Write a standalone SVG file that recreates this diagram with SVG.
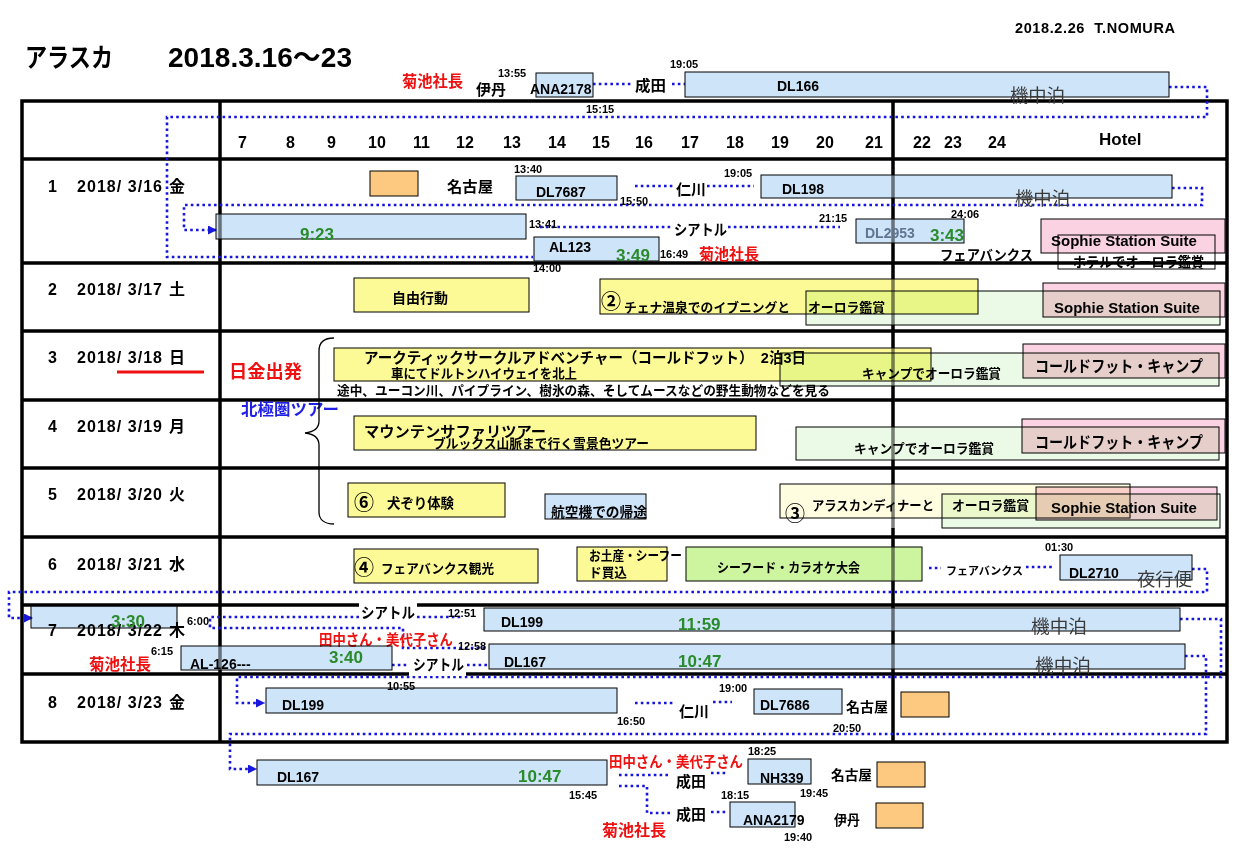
<svg xmlns="http://www.w3.org/2000/svg" width="1251" height="865" viewBox="0 0 1251 865">
<defs>
<style>
.t{font-family:"Liberation Sans","Noto Sans CJK JP",sans-serif;font-weight:700;fill:#000}
.s{font-size:11px}
.f{font-size:14px}
.h{font-size:16px}
.g{fill:#2b8a2b;font-size:17px}
.r{fill:#ee1111}
.m{font-weight:400;fill:#3a3a3a;font-size:18px}
.c{font-weight:700;font-size:20px}
.so{font-size:15px}
.bx{stroke:#000;stroke-width:1;mix-blend-mode:multiply}
.bl{fill:#cde4f9}
.ye{fill:#fcfa96}
.py{fill:#fefde0}
.gr{fill:#ebfae6}
.pk{fill:#fad2e1}
.kg{fill:#cdf5a0}
.or{fill:#fdc880;stroke:#000;stroke-width:1}
.wb{fill:#fff}
.dot{fill:none;stroke:#1616dd;stroke-width:2.6;stroke-dasharray:2.6 3.2}
.gk{stroke:#000;stroke-width:3.5;fill:none}
.gg{stroke:#808080;stroke-width:3.5;fill:none}
</style>
<marker id="ah" viewBox="0 0 10 10" refX="10" refY="5" markerWidth="9" markerHeight="9" markerUnits="userSpaceOnUse" orient="auto"><path d="M0,0L10,5L0,10z" fill="#1616dd"/></marker>
</defs>
<rect width="1251" height="865" fill="#fff"/>

<g id="grid">
<rect class="gk" x="22" y="101" width="1205" height="641"/>
<path class="gk" stroke-width="3" d="M22,159H1227M22,263H1227M22,331H1227M22,400H1227M22,468H1227M22,537H1227M22,605H1227M22,674H1227"/>
<path class="gk" d="M220,101V214M220,239V646M220,670V742"/>
<path class="gg" d="M220,214V239M220,646V670"/>
<path class="gk" d="M893,101V175M893,198V219M893,243V279M893,325V348M893,386V427M893,460V484M893,528V547M893,581V608M893,631V644M893,669V742"/>
<path class="gg" d="M893,175V198M893,219V243M893,279V325M893,348V386M893,427V460M893,484V528M893,547V581M893,608V631M893,644V669"/>
</g>

<g id="connectors">
<path class="dot" d="M593,84H632M672,84H685"/>
<path class="dot" d="M1169,87H1207V117H167V257H533"/>
<path class="dot" d="M1172,188H1202V205H184V230H217" marker-end="url(#ah)"/>
<path class="dot" d="M635,186H674M707,186H754"/>
<path class="dot" d="M540,227H672M728,227H840"/>
<path class="dot" d="M929,568H941M1026,567H1052"/>
<path class="dot" d="M1192,569H1207V592H9V618H33" marker-end="url(#ah)"/>
<path class="dot" d="M359,617H210V628H403V648H487"/>
<path class="dot" d="M417,617H462"/>
<path class="dot" d="M392,665H410M467,665H488"/>
<path class="dot" d="M1180,619H1221V677H237V703H265" marker-end="url(#ah)"/>
<path class="dot" d="M1185,656H1206V734H230V769H257" marker-end="url(#ah)"/>
<path class="dot" d="M635,703H673M713,702H732"/>
<path class="dot" d="M619,775H671M711,773H728"/>
<path class="dot" d="M619,786H647V813H671M711,812H728"/>
</g>

<g id="title">
<text class="t" x="25" y="67" font-size="26" textLength="88" lengthAdjust="spacingAndGlyphs">アラスカ</text>
<text class="t" x="168" y="67" font-size="27" textLength="184" lengthAdjust="spacingAndGlyphs">2018.3.16～23</text>
</g>
<g id="author"><text class="t" x="1015" y="33" font-size="14.5" textLength="160" lengthAdjust="spacing" xml:space="preserve">2018.2.26  T.NOMURA</text></g>

<g id="n-kikuchi-top"><text class="t r" x="402" y="87" font-size="16" textLength="61" lengthAdjust="spacingAndGlyphs">菊池社長</text></g>
<g id="n-itami-top"><text class="t s" x="498" y="77">13:55</text><text class="t" x="476" y="95" font-size="15" textLength="30" lengthAdjust="spacingAndGlyphs">伊丹</text></g>
<g id="n-ana2178"><rect class="bx bl" x="536" y="73" width="57" height="24"/><text class="t f" x="530" y="94">ANA2178</text></g>
<g id="n-narita-top"><text class="t" x="635" y="91" font-size="15" textLength="31" lengthAdjust="spacingAndGlyphs">成田</text></g>
<g id="n-dl166"><text class="t s" x="670" y="68">19:05</text><rect class="bx bl" x="685" y="72" width="484" height="25"/><text class="t f" x="777" y="91">DL166</text><text class="t m" x="1010" y="102" textLength="55" lengthAdjust="spacingAndGlyphs">機中泊</text></g>
<g id="n-1515"><text class="t s" x="586" y="113">15:15</text></g>

<g id="hours">
<text class="t h" x="238" y="148">7</text><text class="t h" x="286" y="148">8</text><text class="t h" x="327" y="148">9</text>
<text class="t h" x="368" y="148">10</text><text class="t h" x="413" y="148">11</text><text class="t h" x="456" y="148">12</text>
<text class="t h" x="503" y="148">13</text><text class="t h" x="548" y="148">14</text><text class="t h" x="592" y="148">15</text>
<text class="t h" x="635" y="148">16</text><text class="t h" x="681" y="148">17</text><text class="t h" x="726" y="148">18</text>
<text class="t h" x="771" y="148">19</text><text class="t h" x="816" y="148">20</text><text class="t h" x="865" y="148">21</text>
<text class="t h" x="913" y="148">22</text><text class="t h" x="944" y="148">23</text><text class="t h" x="988" y="148">24</text>
<text class="t" x="1099" y="145" font-size="17">Hotel</text>
</g>

<g id="day1"><text class="t h" x="48" y="192">1</text><text class="t h" x="77" y="192" textLength="85" lengthAdjust="spacing">2018/ 3/16</text><text class="t h" x="169" y="192">金</text></g>
<g id="day2"><text class="t h" x="48" y="295">2</text><text class="t h" x="77" y="295" textLength="85" lengthAdjust="spacing">2018/ 3/17</text><text class="t h" x="169" y="295">土</text></g>
<g id="day3"><text class="t h" x="48" y="363">3</text><text class="t h" x="77" y="363" textLength="85" lengthAdjust="spacing">2018/ 3/18</text><text class="t h" x="169" y="363">日</text></g>
<g id="day4"><text class="t h" x="48" y="432">4</text><text class="t h" x="77" y="432" textLength="85" lengthAdjust="spacing">2018/ 3/19</text><text class="t h" x="169" y="432">月</text></g>
<g id="day5"><text class="t h" x="48" y="500">5</text><text class="t h" x="77" y="500" textLength="85" lengthAdjust="spacing">2018/ 3/20</text><text class="t h" x="169" y="500">火</text></g>
<g id="day6"><text class="t h" x="48" y="570">6</text><text class="t h" x="77" y="570" textLength="85" lengthAdjust="spacing">2018/ 3/21</text><text class="t h" x="169" y="570">水</text></g>
<g id="day7"><text class="t h" x="48" y="636">7</text><text class="t h" x="77" y="636" textLength="85" lengthAdjust="spacing">2018/ 3/22</text><text class="t h" x="169" y="636">木</text></g>
<g id="day8"><text class="t h" x="48" y="708">8</text><text class="t h" x="77" y="708" textLength="85" lengthAdjust="spacing">2018/ 3/23</text><text class="t h" x="169" y="708">金</text></g>

<g id="n-nagoya1"><rect class="or" x="370" y="171" width="48" height="25"/><text class="t" x="447" y="192" font-size="15" textLength="46" lengthAdjust="spacingAndGlyphs">名古屋</text></g>
<g id="n-dl7687"><text class="t s" x="514" y="173">13:40</text><rect class="bx bl" x="516" y="176" width="101" height="24"/><text class="t f" x="536" y="197">DL7687</text><text class="t s" x="620" y="205">15:50</text></g>
<g id="n-incheon1"><text class="t" x="676" y="195" font-size="15" textLength="30" lengthAdjust="spacingAndGlyphs">仁川</text></g>
<g id="n-dl198"><text class="t s" x="724" y="177">19:05</text><rect class="bx bl" x="761" y="175" width="411" height="23"/><text class="t f" x="782" y="194">DL198</text><text class="t m" x="1015" y="205" textLength="55" lengthAdjust="spacingAndGlyphs">機中泊</text></g>
<g id="n-923"><rect class="bx bl" x="216" y="214" width="310" height="25"/><text class="t g" x="300" y="240">9:23</text></g>
<g id="n-seattle1"><text class="t s" x="529" y="228">13:41</text><text class="t" x="674" y="235" font-size="15" textLength="53" lengthAdjust="spacingAndGlyphs">シアトル</text><text class="t s" x="819" y="222">21:15</text></g>
<g id="n-dl2953"><rect class="bx bl" x="856" y="219" width="108" height="24"/><text class="t f" x="865" y="238" style="fill:#5f7590">DL2953</text><text class="t g" x="930" y="241">3:43</text><text class="t s" x="951" y="218">24:06</text></g>
<g id="n-al123"><rect class="bx bl" x="534" y="237" width="125" height="24"/><text class="t f" x="549" y="252">AL123</text><text class="t g" x="616" y="261">3:49</text><text class="t s" x="660" y="258">16:49</text><text class="t r" x="699" y="260" font-size="16" textLength="60" lengthAdjust="spacingAndGlyphs">菊池社長</text><text class="t s" x="533" y="272">14:00</text></g>
<g id="n-fairbanks1"><text class="t" x="940" y="260" font-size="14" textLength="93" lengthAdjust="spacingAndGlyphs">フェアバンクス</text></g>
<g id="n-hotel1"><rect class="bx pk" x="1041" y="219" width="184" height="34"/><text class="t so" x="1051" y="246">Sophie Station Suite</text><rect x="1058" y="235" width="157" height="34" fill="none" stroke="#000" stroke-width="1"/><text class="t" x="1073" y="267" font-size="14" textLength="131" lengthAdjust="spacingAndGlyphs">ホテルでオーロラ鑑賞</text></g>

<g id="n-free"><rect class="bx ye" x="354" y="278" width="175" height="34"/><text class="t" x="392" y="303" font-size="14" textLength="56" lengthAdjust="spacingAndGlyphs">自由行動</text></g>
<g id="n-aurora2"><rect class="bx gr" x="806" y="291" width="414" height="34"/></g>
<g id="n-chena"><rect class="bx ye" x="600" y="279" width="378" height="35"/><text class="t c" x="601" y="309">②</text><text class="t" x="624" y="312" font-size="13" textLength="166" lengthAdjust="spacingAndGlyphs">チェナ温泉でのイブニングと</text><text class="t" x="808" y="312" font-size="13" textLength="77" lengthAdjust="spacingAndGlyphs">オーロラ鑑賞</text></g>
<g id="n-hotel2"><rect class="bx pk" x="1043" y="283" width="182" height="34"/><text class="t so" x="1054" y="313">Sophie Station Suite</text></g>

<g id="n-depart"><line x1="117" y1="372" x2="204" y2="372" stroke="#ee1111" stroke-width="3"/><text class="t r" x="229" y="378" font-size="18" textLength="73" lengthAdjust="spacingAndGlyphs">日金出発</text></g>
<g id="n-arctic-tour"><text class="t" x="241" y="415" font-size="16" textLength="98" lengthAdjust="spacingAndGlyphs" style="fill:#1f1fe6">北極圏ツアー</text><path d="M334,338C325,338 319,342 319,351V421C319,428 314,432 305,433C314,434 319,438 319,445V512C319,520 325,524 334,524" fill="none" stroke="#000" stroke-width="1.3"/></g>
<g id="n-aurora3"><rect class="bx gr" x="780" y="353" width="439" height="33"/><text class="t" x="862" y="378" font-size="13" textLength="139" lengthAdjust="spacingAndGlyphs">キャンプでオーロラ鑑賞</text></g>
<g id="n-arctic"><rect class="bx ye" x="334" y="348" width="597" height="33"/><text class="t" x="364" y="363" font-size="15" textLength="442" lengthAdjust="spacingAndGlyphs">アークティックサークルアドベンチャー（コールドフット）　2泊3日</text><text class="t" x="391" y="378" font-size="13" textLength="186" lengthAdjust="spacingAndGlyphs">車にてドルトンハイウェイを北上</text><text class="t" x="337" y="395" font-size="13" textLength="493" lengthAdjust="spacingAndGlyphs">途中、ユーコン川、パイプライン、樹氷の森、そしてムースなどの野生動物などを見る</text></g>
<g id="n-camp3"><rect class="bx pk" x="1023" y="344" width="202" height="34"/><text class="t" x="1035" y="372" font-size="16" textLength="168" lengthAdjust="spacingAndGlyphs">コールドフット・キャンプ</text></g>

<g id="n-aurora4"><rect class="bx gr" x="796" y="427" width="423" height="33"/><text class="t" x="854" y="453" font-size="13" textLength="140" lengthAdjust="spacingAndGlyphs">キャンプでオーロラ鑑賞</text></g>
<g id="n-mountain"><rect class="bx ye" x="354" y="416" width="402" height="34"/><text class="t" x="364" y="437" font-size="15" textLength="182" lengthAdjust="spacingAndGlyphs">マウンテンサファリツアー</text><text class="t" x="433" y="448" font-size="13" textLength="216" lengthAdjust="spacingAndGlyphs">ブルックス山脈まで行く雪景色ツアー</text></g>
<g id="n-camp4"><rect class="bx pk" x="1022" y="419" width="203" height="34"/><text class="t" x="1035" y="448" font-size="16" textLength="168" lengthAdjust="spacingAndGlyphs">コールドフット・キャンプ</text></g>

<g id="n-dogsled"><rect class="bx ye" x="348" y="483" width="157" height="34"/><text class="t c" x="354" y="510">⑥</text><text class="t" x="387" y="508" font-size="13.5" textLength="67" lengthAdjust="spacingAndGlyphs">犬ぞり体験</text></g>
<g id="n-return"><rect class="bx bl" x="545" y="494" width="101" height="25"/><text class="t" x="551" y="517" font-size="13.5" textLength="96" lengthAdjust="spacingAndGlyphs">航空機での帰途</text></g>
<g id="n-dinner"><rect class="bx py" x="780" y="484" width="350" height="34"/><text class="t c" x="785" y="521">③</text><text class="t" x="812" y="510" font-size="13" textLength="122" lengthAdjust="spacingAndGlyphs">アラスカンディナーと</text></g>
<g id="n-aurora5"><rect class="bx gr" x="942" y="494" width="278" height="34"/><text class="t" x="952" y="510" font-size="13" textLength="77" lengthAdjust="spacingAndGlyphs">オーロラ鑑賞</text></g>
<g id="n-hotel5"><rect class="bx pk" x="1036" y="487" width="181" height="33"/><text class="t so" x="1051" y="513">Sophie Station Suite</text></g>

<g id="n-sightseeing"><rect class="bx ye" x="354" y="549" width="184" height="34"/><text class="t c" x="354" y="575">④</text><text class="t" x="381" y="573" font-size="13" textLength="113" lengthAdjust="spacingAndGlyphs">フェアバンクス観光</text></g>
<g id="n-shopping"><rect class="bx ye" x="577" y="547" width="90" height="34"/><text class="t" x="589" y="560" font-size="13" textLength="93" lengthAdjust="spacingAndGlyphs">お土産・シーフー</text><text class="t" x="589" y="577" font-size="13" textLength="38" lengthAdjust="spacingAndGlyphs">ド買込</text></g>
<g id="n-karaoke"><rect class="bx kg" x="686" y="547" width="236" height="34"/><text class="t" x="717" y="572" font-size="13" textLength="143" lengthAdjust="spacingAndGlyphs">シーフード・カラオケ大会</text></g>
<g id="n-fairbanks6"><text class="t" x="946" y="575" font-size="11" textLength="77" lengthAdjust="spacingAndGlyphs">フェアバンクス</text></g>
<g id="n-dl2710"><text class="t s" x="1045" y="551">01:30</text><rect class="bx bl" x="1060" y="555" width="132" height="25"/><text class="t f" x="1069" y="578">DL2710</text><text class="t m" x="1137" y="586" textLength="55" lengthAdjust="spacingAndGlyphs">夜行便</text></g>

<g id="n-330"><rect class="bx bl" x="31" y="605" width="146" height="23"/><text class="t g" x="111" y="627">3:30</text><text class="t s" x="187" y="625">6:00</text></g>
<g id="n-seattle7a"><rect class="wb" x="359" y="603" width="58" height="17"/><text class="t" x="361" y="618" font-size="15" textLength="54" lengthAdjust="spacingAndGlyphs">シアトル</text><text class="t s" x="448" y="617">12:51</text></g>
<g id="n-dl199a"><rect class="bx bl" x="484" y="608" width="696" height="23"/><text class="t f" x="501" y="627">DL199</text><text class="t g" x="678" y="630">11:59</text><text class="t m" x="1031" y="633" textLength="56" lengthAdjust="spacingAndGlyphs">機中泊</text></g>
<g id="n-tanaka1"><text class="t r" x="319" y="645" font-size="15" textLength="134" lengthAdjust="spacingAndGlyphs">田中さん・美代子さん</text><text class="t s" x="458" y="650">12:58</text></g>
<g id="n-kikuchi7"><text class="t s" x="151" y="655">6:15</text><text class="t r" x="89" y="670" font-size="16" textLength="62" lengthAdjust="spacingAndGlyphs">菊池社長</text></g>
<g id="n-al126"><rect class="bx bl" x="181" y="646" width="211" height="24"/><text class="t f" x="190" y="669">AL-126---</text><text class="t g" x="329" y="663">3:40</text></g>
<g id="n-seattle7b"><rect class="wb" x="409" y="656" width="57" height="20"/><text class="t" x="413" y="670" font-size="15" textLength="51" lengthAdjust="spacingAndGlyphs">シアトル</text></g>
<g id="n-dl167a"><rect class="bx bl" x="489" y="644" width="696" height="25"/><text class="t f" x="504" y="667">DL167</text><text class="t g" x="678" y="667">10:47</text><text class="t m" x="1035" y="672" textLength="56" lengthAdjust="spacingAndGlyphs">機中泊</text></g>

<g id="n-dl199b"><text class="t s" x="387" y="690">10:55</text><rect class="bx bl" x="266" y="688" width="351" height="25"/><text class="t f" x="282" y="710">DL199</text><text class="t s" x="617" y="725">16:50</text></g>
<g id="n-incheon8"><text class="t" x="679" y="717" font-size="15" textLength="30" lengthAdjust="spacingAndGlyphs">仁川</text></g>
<g id="n-dl7686"><text class="t s" x="719" y="692">19:00</text><rect class="bx bl" x="754" y="689" width="88" height="25"/><text class="t f" x="760" y="710">DL7686</text><text class="t s" x="833" y="732">20:50</text></g>
<g id="n-nagoya8"><text class="t" x="846" y="712" font-size="14" textLength="42" lengthAdjust="spacingAndGlyphs">名古屋</text><rect class="or" x="901" y="692" width="48" height="25"/></g>

<g id="n-dl167b"><rect class="bx bl" x="257" y="760" width="350" height="25"/><text class="t f" x="277" y="782">DL167</text><text class="t g" x="518" y="782">10:47</text><text class="t s" x="569" y="799">15:45</text></g>
<g id="n-tanaka2"><text class="t r" x="609" y="767" font-size="15" textLength="134" lengthAdjust="spacingAndGlyphs">田中さん・美代子さん</text></g>
<g id="n-narita-a"><text class="t" x="676" y="787" font-size="15" textLength="30" lengthAdjust="spacingAndGlyphs">成田</text></g>
<g id="n-nh339"><text class="t s" x="748" y="755">18:25</text><rect class="bx bl" x="748" y="759" width="63" height="25"/><text class="t f" x="760" y="783">NH339</text><text class="t s" x="800" y="797">19:45</text></g>
<g id="n-nagoya-end"><text class="t" x="831" y="780" font-size="14" textLength="41" lengthAdjust="spacingAndGlyphs">名古屋</text><rect class="or" x="877" y="762" width="48" height="25"/></g>
<g id="n-narita-b"><text class="t" x="676" y="820" font-size="15" textLength="30" lengthAdjust="spacingAndGlyphs">成田</text></g>
<g id="n-ana2179"><text class="t s" x="721" y="799">18:15</text><rect class="bx bl" x="730" y="802" width="65" height="25"/><text class="t f" x="743" y="825">ANA2179</text><text class="t s" x="784" y="841">19:40</text></g>
<g id="n-itami-end"><text class="t" x="834" y="825" font-size="14" textLength="26" lengthAdjust="spacingAndGlyphs">伊丹</text><rect class="or" x="876" y="803" width="47" height="25"/></g>
<g id="n-kikuchi-end"><text class="t r" x="602" y="836" font-size="16" textLength="64" lengthAdjust="spacingAndGlyphs">菊池社長</text></g>
</svg>
